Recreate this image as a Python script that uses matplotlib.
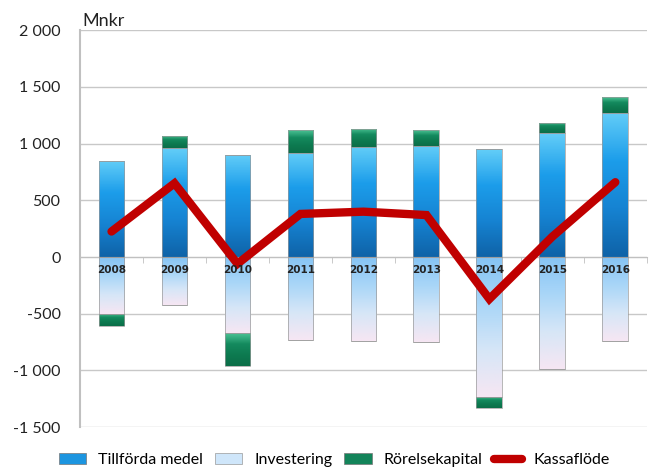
import numpy as np
import matplotlib.pyplot as plt
from matplotlib.patches import Patch
from matplotlib.lines import Line2D
from matplotlib.colors import LinearSegmentedColormap
from matplotlib.ticker import FuncFormatter

plt.rcParams['font.family'] = ['Lato', 'DejaVu Sans']

# Kassaflödesanalys, Mnkr
years = ['2008', '2009', '2010', '2011', '2012', '2013', '2014', '2015', '2016']
tillforda = [850, 960, 900, 920, 970, 980, 950, 1090, 1270]
investering = [-500, -420, -670, -735, -740, -745, -1230, -990, -740]
rorelse_pos = [0, 110, 0, 200, 160, 140, 0, 90, 140]
rorelse_neg = [-110, 0, -290, 0, 0, 0, -100, 0, 0]
kassaflode = [225, 650, -60, 380, 400, 370, -370, 180, 660]

cmap_blue = LinearSegmentedColormap.from_list('blue', ['#62CDF8', '#1C9DEA', '#1683D2', '#0F63A8'])
cmap_inv = LinearSegmentedColormap.from_list('inv', ['#86C4F4', '#A9D6F8', '#D6E6F7', '#F6E6F3'])
cmap_green = LinearSegmentedColormap.from_list('green', ['#4BC294', '#148A5E', '#0D7A50', '#0B6E48'])

fig = plt.figure(figsize=(6.56, 4.72), dpi=100)
ax = fig.add_axes([0.122, 0.095, 0.864, 0.841])

x = np.arange(len(years))
width = 0.41


def gradient_bars(xs, bottoms, heights, cmap, z):
    bars = ax.bar(xs, heights, width, bottom=bottoms, color='none',
                  edgecolor='#9a9a9a', linewidth=0.5, zorder=z + 1)
    grad = np.linspace(0, 1, 64).reshape(-1, 1)
    for b in bars:
        h = b.get_height()
        if h == 0:
            continue
        x0, y0 = b.get_x(), b.get_y()
        y_lo, y_hi = min(y0, y0 + h), max(y0, y0 + h)
        im = ax.imshow(grad, cmap=cmap, aspect='auto', origin='upper',
                       extent=(x0, x0 + b.get_width(), y_lo, y_hi), zorder=z)
        im.set_clip_path(b)
    return bars


gradient_bars(x, 0, tillforda, cmap_blue, 2)
gradient_bars(x, tillforda, rorelse_pos, cmap_green, 2)
gradient_bars(x, 0, investering, cmap_inv, 2)
gradient_bars(x, investering, rorelse_neg, cmap_green, 2)

ax.plot(x, kassaflode, color='#C00000', linewidth=6, solid_joinstyle='miter',
        solid_capstyle='round', zorder=6)

for xi, yr in zip(x, years):
    ax.text(xi, -110, yr, ha='center', va='center', fontsize=7.5,
            fontweight='bold', color='#222222', family='DejaVu Sans', zorder=7)

ax.set_xlim(-0.5, len(years) - 0.5)
ax.set_ylim(-1500, 2000)
ax.set_yticks(np.arange(-1500, 2001, 500))
ax.yaxis.set_major_formatter(FuncFormatter(lambda v, p: f'{int(v):,}'.replace(',', ' ')))
ax.tick_params(axis='y', length=0, labelsize=11.5, pad=14, colors='#222222')
ax.grid(axis='y', color='#c8c8c8', linewidth=1)
ax.set_axisbelow(True)

# x-axis along zero with small ticks between the years
ax.spines['bottom'].set_position(('data', 0))
ax.spines['bottom'].set_color('#c0c0c0')
ax.set_xticks(x)
ax.set_xticklabels([])
ax.tick_params(axis='x', which='major', length=0)
ax.set_xticks(np.arange(-0.5, len(years)), minor=True)
ax.tick_params(axis='x', which='minor', length=4, color='#c0c0c0', direction='out')
ax.spines['left'].set_color('#c0c0c0')
ax.spines['left'].set_linewidth(1.5)
ax.spines['top'].set_visible(False)
ax.spines['right'].set_visible(False)

fig.text(0.125, 0.955, 'Mnkr', fontsize=13, color='#222222', va='center')

handles = [
    Patch(facecolor='#1C95E0', edgecolor='#777777', linewidth=0.5, label='Tillförda medel'),
    Patch(facecolor='#CFE6FA', edgecolor='#999999', linewidth=0.5, label='Investering'),
    Patch(facecolor='#13845A', edgecolor='#777777', linewidth=0.5, label='Rörelsekapital'),
    Line2D([0], [0], color='#C00000', linewidth=6, solid_capstyle='round', label='Kassaflöde'),
]
fig.legend(handles=handles, loc='center', bbox_to_anchor=(0.51, 0.025), ncol=4,
           frameon=False, fontsize=11.5, handlelength=1.7, handleheight=0.6,
           columnspacing=0.75, handletextpad=0.75)

fig.savefig('out.png', dpi=100)
